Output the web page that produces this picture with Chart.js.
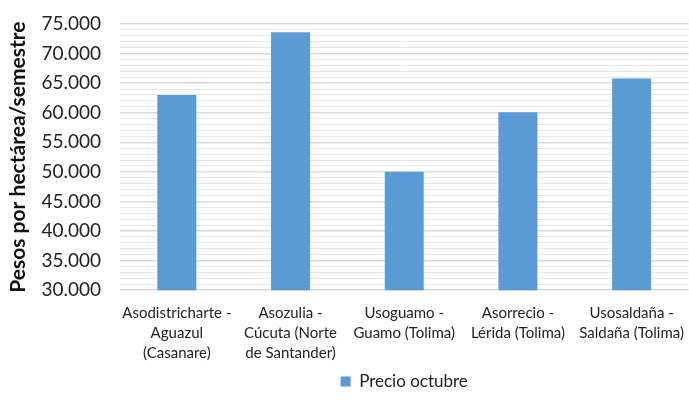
<!DOCTYPE html>
<html>
<head>
<meta charset="utf-8">
<script src="https://cdn.jsdelivr.net/npm/chart.js@4"></script>
<style>
  body { margin: 0; background: #fff; }
  #wrap { width: 689px; height: 400px; }
</style>
</head>
<body>
<div id="wrap"><canvas id="myChart"></canvas></div>
<script>
var categories = [
    ['Asodistricharte -', 'Aguazul', '(Casanare)'],
    ['Asozulia -', 'Cúcuta (Norte', 'de Santander)'],
    ['Usoguamo -', 'Guamo (Tolima)'],
    ['Asorrecio -', 'Lérida (Tolima)'],
    ['Usosaldaña -', 'Saldaña (Tolima)']
]
var precioOctubre = [63000, 73600, 50000, 60100, 65800]
var seriesName = 'Precio octubre'
var yTitle = 'Pesos por hectárea/semestre'
var yMin = 30000, yMax = 75000, yMajor = 5000, yMinor = 1000

function fmt(v) {
    return String(v).replace(/\B(?=(\d{3})+(?!\d))/g, '.')
}

var ctx = document.getElementById('myChart').getContext('2d')

var chart = new Chart(ctx, {
    type: 'bar',
    data: {
        labels: categories,
        datasets: [
            {
                label: seriesName,
                data: precioOctubre,
                backgroundColor: '#5B9BD5',
                barPercentage: 0.343,
                categoryPercentage: 1
            }
        ]
    },
    options: {
        responsive: true,
        maintainAspectRatio: false,
        animation: false,
        layout: { padding: { left: 6, top: 24, right: 0, bottom: 0 } },
        plugins: {
            legend: {
                position: 'bottom',
                fullSize: false,
                labels: {
                    font: { family: 'Lato', size: 17 },
                    color: '#222',
                    boxWidth: 10,
                    boxHeight: 10,
                    padding: 5
                }
            },
            tooltip: { enabled: false }
        },
        scales: {
            x: {
                grid: { display: false },
                border: { display: false },
                ticks: {
                    font: { family: 'Lato', size: 15, lineHeight: 1.33 },
                    color: '#222',
                    padding: 5,
                    maxRotation: 0,
                    autoSkip: false
                }
            },
            y: {
                min: yMin,
                max: yMax,
                border: { display: false },
                afterFit: function (scale) {
                    scale.width = 114
                    scale.paddingTop = 0
                    scale.paddingBottom = 0
                },
                afterBuildTicks: function (scale) {
                    var t = []
                    for (var v = yMin; v <= yMax; v += yMinor) t.push({ value: v })
                    scale.ticks = t
                },
                grid: {
                    drawTicks: false,
                    color: function (c) {
                        return c.tick && c.tick.value % yMajor === 0 ? '#d9d9d9' : '#e6e6e6'
                    },
                    lineWidth: function (c) {
                        return c.tick && c.tick.value % yMajor === 0 ? 1.5 : 1
                    }
                },
                ticks: {
                    autoSkip: false,
                    padding: 19,
                    font: { family: 'Lato', size: 19 },
                    color: '#222',
                    callback: function (v) {
                        return v % yMajor === 0 ? fmt(v) : ''
                    }
                },
                title: {
                    display: true,
                    text: yTitle,
                    font: { family: 'Lato', size: 21, weight: 'bold' },
                    color: '#111',
                    padding: { top: 0, bottom: 10 }
                }
            }
        }
    }
})
</script>
</body>
</html>
